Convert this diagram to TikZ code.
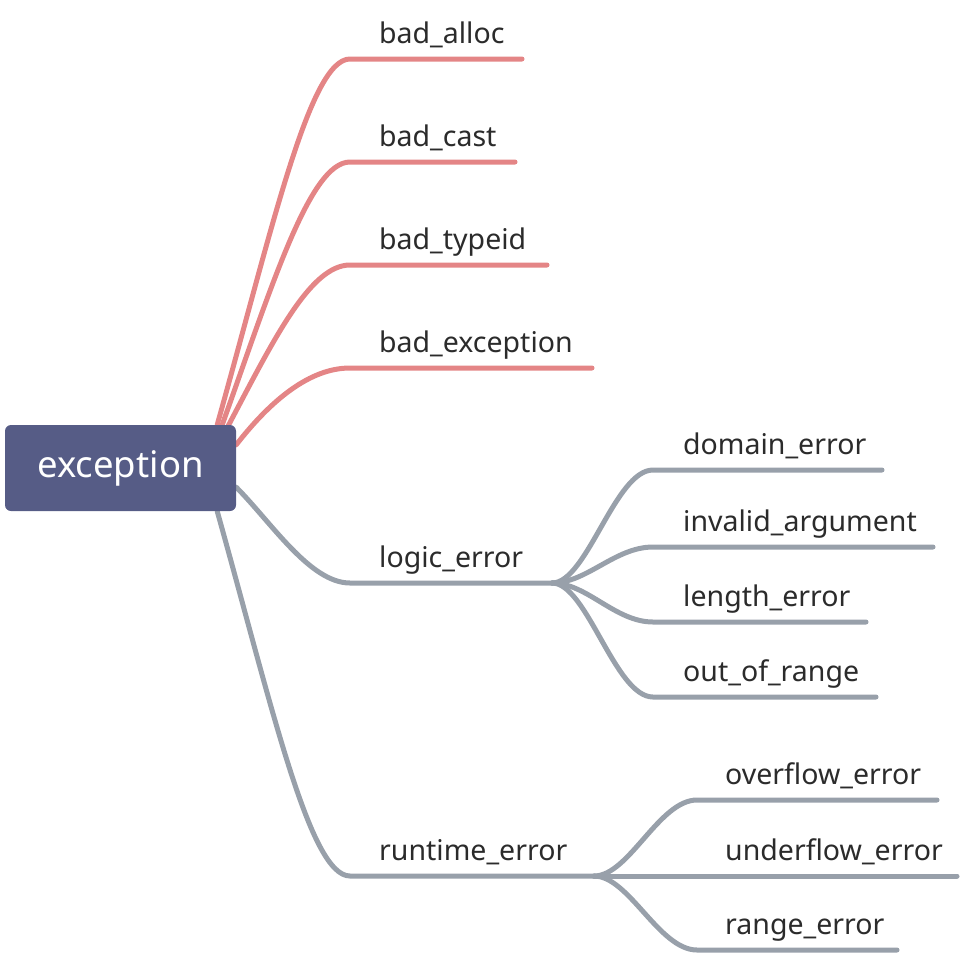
\documentclass[tikz,border=0pt]{standalone}
\usepackage{fontspec}
\setmainfont{Noto Sans}
\usetikzlibrary{backgrounds}
\definecolor{rootfill}{HTML}{565C86}
\definecolor{branchred}{HTML}{E48586}
\definecolor{branchgray}{HTML}{98A0AA}
\definecolor{labelgray}{HTML}{2B2B2B}
\tikzset{
  rootnode/.style={fill=rootfill, rounded corners=6pt, text=white, minimum width=231pt, minimum height=86pt, inner sep=0pt, font=\fontsize{36.5}{42}\selectfont},
  leafnode/.style={anchor=base west, inner sep=0pt, text=labelgray, font=\fontsize{28.5}{34}\selectfont},
  redbranch/.style={branchred, line width=5pt, line cap=round},
  graybranch/.style={branchgray, line width=5pt, line cap=round}
}
\begin{document}
\begin{tikzpicture}[x=1pt, y=-1pt]
  \useasboundingbox (0,0) rectangle (960,956);
  \node[rootnode] (exc) at (120.5,468) {\raisebox{-3pt}{exception}};
  \node[leafnode] (alloc) at (379,43) {bad\_alloc};
  \node[leafnode] (cast) at (379,146) {bad\_cast};
  \node[leafnode] (typeid) at (379,249) {bad\_typeid};
  \node[leafnode] (badexc) at (379,352) {bad\_exception};
  \node[leafnode] (logic) at (379,567) {logic\_error};
  \node[leafnode] (runtime) at (379,860) {runtime\_error};
  \node[leafnode] (domain) at (683,454) {domain\_error};
  \node[leafnode] (invalid) at (683,531) {invalid\_argument};
  \node[leafnode] (length) at (683,606) {length\_error};
  \node[leafnode] (outrange) at (683,681) {out\_of\_range};
  \node[leafnode] (overflow) at (725,784) {overflow\_error};
  \node[leafnode] (underflow) at (725,860) {underflow\_error};
  \node[leafnode] (range) at (725,934) {range\_error};
  \coordinate (alloc-a) at (350,59);   \coordinate (alloc-b) at (522,59);
  \coordinate (cast-a) at (350,162);   \coordinate (cast-b) at (515,162);
  \coordinate (typeid-a) at (350,265); \coordinate (typeid-b) at (547,265);
  \coordinate (badexc-a) at (350,368); \coordinate (badexc-b) at (592,368);
  \coordinate (logic-a) at (350,583);  \coordinate (logic-b) at (552,583);
  \coordinate (runtime-a) at (350,876); \coordinate (runtime-b) at (594,876);
  \coordinate (domain-a) at (653,470); \coordinate (domain-b) at (882,470);
  \coordinate (invalid-a) at (653,547); \coordinate (invalid-b) at (933,547);
  \coordinate (length-a) at (653,622); \coordinate (length-b) at (866,622);
  \coordinate (outrange-a) at (653,697); \coordinate (outrange-b) at (876,697);
  \coordinate (overflow-a) at (697,800); \coordinate (overflow-b) at (937,800);
  \coordinate (underflow-b) at (957,876);
  \coordinate (range-a) at (697,950); \coordinate (range-b) at (897,950);
  \begin{scope}[on background layer]
    \draw[redbranch] ([xshift=-19pt]exc.north east) .. controls +(56,-200) and +(-40,0) .. (alloc-a) -- (alloc-b);
    \draw[redbranch] ([xshift=-14pt]exc.north east) .. controls +(50,-140) and +(-40,0) .. (cast-a) -- (cast-b);
    \draw[redbranch] ([xshift=-8pt,yshift=-1pt]exc.north east) .. controls +(45,-85) and +(-40,0) .. (typeid-a) -- (typeid-b);
    \draw[redbranch] ([yshift=-20pt]exc.north east) .. controls +(35,-45) and +(-40,0) .. (badexc-a) -- (badexc-b);
    \draw[graybranch] ([yshift=24pt]exc.south east) .. controls +(35,35) and +(-40,0) .. (logic-a) -- (logic-b);
    \draw[graybranch] ([xshift=-19pt]exc.south east) .. controls +(56,200) and +(-40,0) .. (runtime-a) -- (runtime-b);
    \draw[graybranch] (logic-b) .. controls +(35,0) and +(-38,0) .. (domain-a) -- (domain-b);
    \draw[graybranch] (logic-b) .. controls +(35,0) and +(-38,0) .. (invalid-a) -- (invalid-b);
    \draw[graybranch] (logic-b) .. controls +(35,0) and +(-38,0) .. (length-a) -- (length-b);
    \draw[graybranch] (logic-b) .. controls +(35,0) and +(-38,0) .. (outrange-a) -- (outrange-b);
    \draw[graybranch] (runtime-b) .. controls +(35,0) and +(-38,0) .. (overflow-a) -- (overflow-b);
    \draw[graybranch] (runtime-b) -- (underflow-b);
    \draw[graybranch] (runtime-b) .. controls +(35,0) and +(-38,0) .. (range-a) -- (range-b);
  \end{scope}
\end{tikzpicture}
\end{document}
